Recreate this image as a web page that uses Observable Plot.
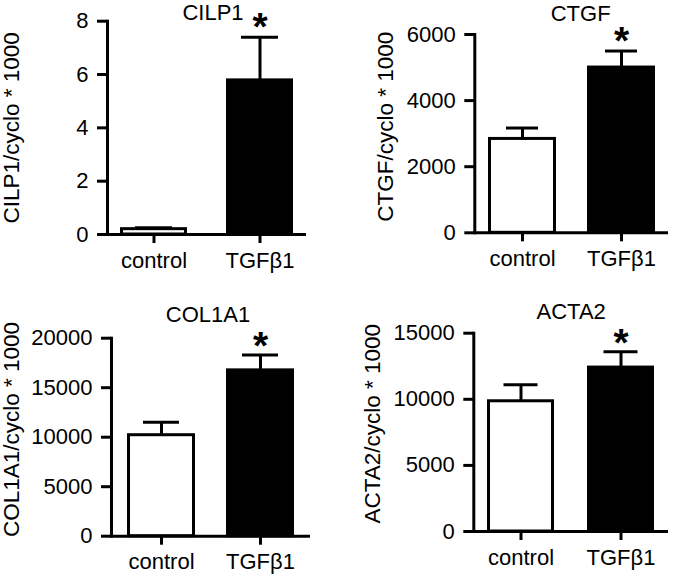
<!DOCTYPE html>
<html><head><meta charset="utf-8">
<script src="https://cdn.jsdelivr.net/npm/d3@7"></script>
<script src="https://cdn.jsdelivr.net/npm/@observablehq/plot@0.6"></script>
<style>
body{margin:0;background:#fff;}
#chart{position:relative;width:675px;height:575px;background:#fff;font-family:"Liberation Sans",Arial,Helvetica,sans-serif;}
</style></head><body><div id="chart"></div>
<script>
// ---- data ----
const categories = ["control", "TGFβ1"];
const titles = ["CILP1", "CTGF", "COL1A1", "ACTA2"];
const yLabels = ["CILP1/cyclo * 1000", "CTGF/cyclo * 1000", "COL1A1/cyclo * 1000", "ACTA2/cyclo * 1000"];
const cilp1Mean = [0.2, 5.78];
const cilp1Err = [0.05, 1.62];
const ctgfMean = [2840, 5000];
const ctgfErr = [330, 500];
const col1a1Mean = [10200, 16750];
const col1a1Err = [1300, 1550];
const acta2Mean = [9850, 12400];
const acta2Err = [1250, 1200];
const cilp1Ticks = [0, 2, 4, 6, 8];
const ctgfTicks = [0, 2000, 4000, 6000];
const col1a1Ticks = [0, 5000, 10000, 15000, 20000];
const acta2Ticks = [0, 5000, 10000, 15000];

// ---- layout ----
const layouts = [
  {left:0,   top:0,   width:337, height:287, ml:107,   mr:31, mt:20.7, mb:53,   pi:0.364, po:0.112, cap:15,   titleDx:6,  titleDy:-8,    labelX:11, labelDy:0,    starDy:-9.5},
  {left:337, top:0,   width:338, height:287, ml:137.3, mr:7,  mt:34,   mb:54.7, pi:0.318, po:0.134, cap:18,   titleDx:9,  titleDy:-21,   labelX:48, labelDy:-7,   starDy:-10},
  {left:0,   top:287, width:337, height:288, ml:111,   mr:27, mt:50.7, mb:39.3, pi:0.31,  po:0.16,  cap:16,   titleDx:-3, titleDy:-23.2, labelX:11, labelDy:-7.7, starDy:-8.5},
  {left:337, top:287, width:338, height:288, ml:136.3, mr:7,  mt:45.7, mb:44,   pi:0.33,  po:0.138, cap:16.5, titleDx:0,  titleDy:-21.7, labelX:35, labelDy:-8.6, starDy:-8}
];

const fontFamily = '"Liberation Sans", Arial, Helvetica, sans-serif';

function panel(cfg, title, yLabel, ticks, means, errs) {
  const rows = categories.map((c, i) => ({cat: c, mean: means[i], top: means[i] + errs[i]}));
  const yMax = ticks[ticks.length - 1];
  const svg = Plot.plot({
    width: cfg.width, height: cfg.height,
    marginLeft: cfg.ml, marginRight: cfg.mr, marginTop: cfg.mt, marginBottom: cfg.mb,
    style: {fontFamily, fontSize: "22px", color: "black", background: "transparent", overflow: "visible"},
    x: {type: "band", domain: categories, paddingInner: cfg.pi, paddingOuter: cfg.po},
    y: {domain: [0, yMax], nice: false},
    marks: [
      Plot.barY(rows.slice(0, 1), {x: "cat", y: "mean", fill: "white", stroke: "black", strokeWidth: 3, insetLeft: 1.5, insetRight: 1.5}),
      Plot.barY(rows.slice(1), {x: "cat", y: "mean", fill: "black", stroke: "black", strokeWidth: 3, insetLeft: 1.5, insetRight: 1.5}),
      Plot.ruleX(rows, {x: "cat", y1: "mean", y2: "top", stroke: "black", strokeWidth: 3}),
      Plot.tickY(rows, {x: "cat", y: "top", stroke: "black", strokeWidth: 3, insetLeft: cfg.cap, insetRight: cfg.cap}),
      Plot.text(rows.slice(1), {x: "cat", y: "top", text: () => "*", fontSize: 39, fontWeight: "bold", lineAnchor: "middle", textAnchor: "middle", dy: cfg.starDy}),
      Plot.frame({anchor: "left", stroke: "black", strokeWidth: 3}),
      Plot.ruleY([0], {stroke: "black", strokeWidth: 3}),
      Plot.axisY({ticks, tickSize: 10, tickPadding: 9, tickFormat: d => String(d), fontSize: 22, strokeWidth: 3, label: null}),
      Plot.axisX({tickSize: 9, tickPadding: 8.5, fontSize: 22, strokeWidth: 3, label: null}),
      Plot.text([title], {text: d => d, frameAnchor: "top", textAnchor: "middle", lineAnchor: "middle", dx: cfg.titleDx, dy: cfg.titleDy, fontSize: 22}),
      Plot.text([yLabel], {text: d => d, frameAnchor: "left", rotate: -90, textAnchor: "middle", lineAnchor: "middle", dx: cfg.labelX - cfg.ml, dy: cfg.labelDy, fontSize: 22.5})
    ]
  });
  svg.style.position = "absolute";
  svg.style.left = cfg.left + "px";
  svg.style.top = cfg.top + "px";
  document.getElementById("chart").appendChild(svg);
}

panel(layouts[0], titles[0], yLabels[0], cilp1Ticks, cilp1Mean, cilp1Err);
panel(layouts[1], titles[1], yLabels[1], ctgfTicks, ctgfMean, ctgfErr);
panel(layouts[2], titles[2], yLabels[2], col1a1Ticks, col1a1Mean, col1a1Err);
panel(layouts[3], titles[3], yLabels[3], acta2Ticks, acta2Mean, acta2Err);
</script></body></html>
